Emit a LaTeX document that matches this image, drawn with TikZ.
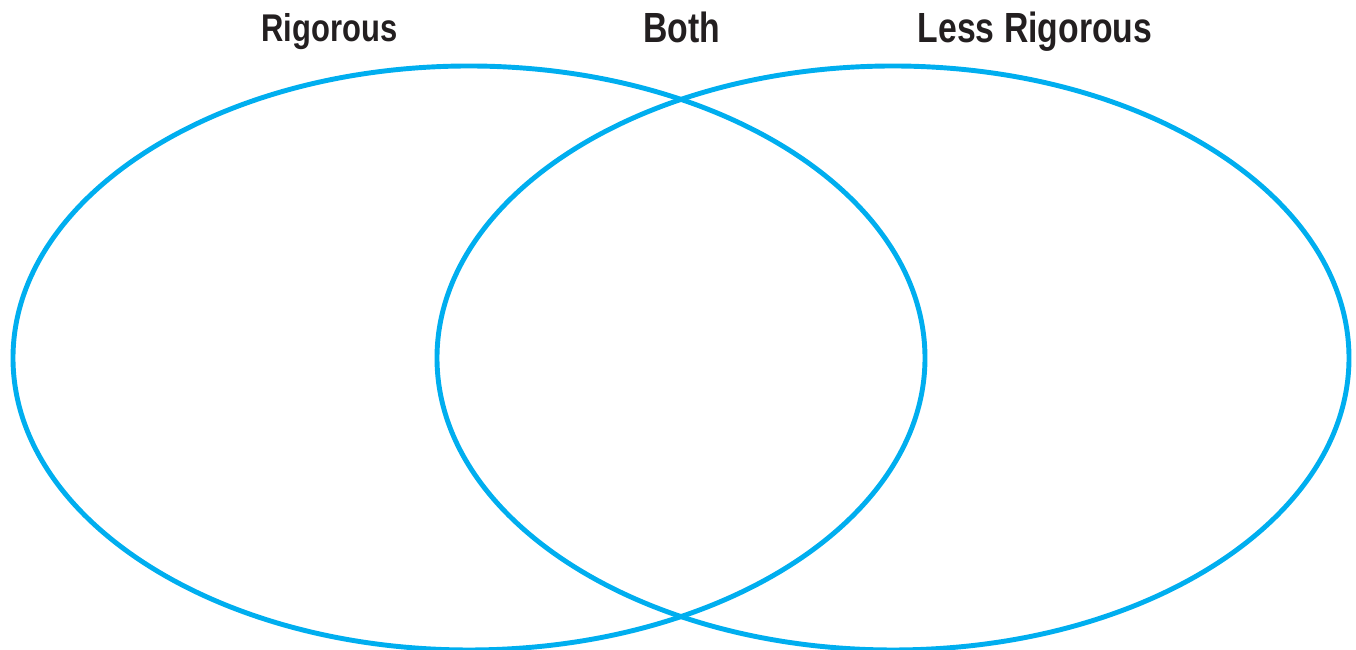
\documentclass[tikz,border=0pt]{standalone}
\usepackage{fontspec}
\setmainfont{Liberation Sans}
\usepackage{tikz}
\definecolor{accent}{RGB}{0, 174, 239}
\definecolor{ink}{RGB}{35, 31, 32}
\usetikzlibrary{positioning}

\begin{document}
\begin{tikzpicture}[
    setring/.style={draw=accent, line width=2.8pt},
    setlabel/.style={font=\fontsize{24}{28}\selectfont\bfseries, text=ink, anchor=base, xscale=0.8}
]
    \useasboundingbox (0,0) rectangle (27.12,13);
    \clip (0,0) rectangle (27.12,13);

    \draw[setring] (9.38,5.84) ellipse [x radius=9.12, y radius=5.84];
    \draw[setring] (17.86,5.84) ellipse [x radius=9.12, y radius=5.84];

    \node[setlabel, font=\fontsize{22}{26}\selectfont\bfseries] (rigorous) at (6.59,12.17) {Rigorous};
    \node[setlabel] (both) at (13.63,12.14) {Both};
    \node[setlabel] (less) at (20.7,12.14) {Less Rigorous};
\end{tikzpicture}
\end{document}
